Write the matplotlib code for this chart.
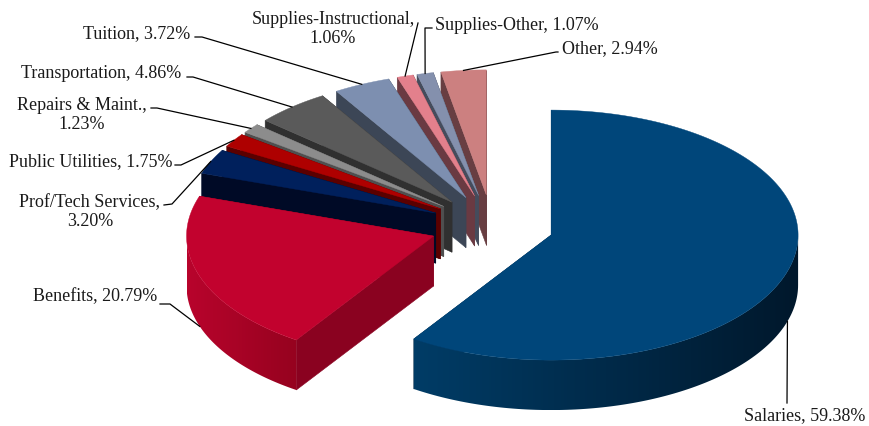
#!/usr/bin/env python3
"""
Exploded 3D pie of expenditure shares, drawn by hand since matplotlib
has no pseudo-3D pie. Axes run in image pixels.
"""

import matplotlib.pyplot as plt
import matplotlib.colors as mcolors
from matplotlib.patches import Polygon
import numpy as np

categories = ['Salaries', 'Benefits', 'Prof/Tech Services', 'Public Utilities',
              'Repairs & Maint.', 'Transportation', 'Tuition',
              'Supplies-Instructional', 'Supplies-Other', 'Other']
shares = [59.38, 20.79, 3.20, 1.75, 1.23, 4.86, 3.72, 1.06, 1.07, 2.94]

# Style settings
top_colors = ['#00467a', '#c2022e', '#00205c', '#ae0000', '#8c8c8c',
              '#5a5a5a', '#7d8fb0', '#e3808c', '#8490ad', '#cc8080']
side_light = ['#003c66', '#b8042c', '#000c2c', '#660000', '#555555',
              '#333333', '#3e4858', '#703e46', '#474e5e', '#6c4246']
side_dark = ['#00182c', '#96021f', '#000820', '#4a0000', '#444444',
             '#2a2a2a', '#343c4a', '#5e343a', '#3c424f', '#5c383c']
cut_colors = ['#002a4a', '#8a0220', '#000a26', '#5a0000', '#4f4f4f',
              '#303030', '#3c4656', '#6a3a42', '#454c5c', '#683e42']

# Label layout (pixels): centre, then leader elbow start and end
label_xy = [(805, 416), (95, 297), (90, 212), (91, 162), (82, 115),
            (101, 73), (137, 34), (333, 29), (517, 26), (610, 49)]
leader_from = [(787, 403), (160, 304), (164, 205), (175, 165), (151, 108),
               (187, 77), (195, 37), (418, 23), (432, 28), (558, 52)]
leader_elbow = [(787, 403), (170, 304), (172, 204), (181, 165), (157, 108),
                (193, 77), (202, 37), (418, 23), (425, 28), (556, 52)]
wrapped = [False, False, True, False, True, False, False, True, False, False]

# Pie geometry (pixels)
CX, CY = 492, 226
RX, RY = 247, 125
EXPLODE = 0.25
DEPTH = 50

fig = plt.figure(figsize=(8.7, 4.26), dpi=100)
ax = fig.add_axes([0, 0, 1, 1])
ax.axis('off')


def rim(theta, ax0, ay0):
    """Point on the ellipse, theta in radians clockwise from the top."""
    return ax0 + RX * np.sin(theta), ay0 - RY * np.cos(theta)


edges = np.radians(np.concatenate([[0], np.cumsum(shares)]) * 3.6)
mids = (edges[:-1] + edges[1:]) / 2
apex_x = CX + EXPLODE * RX * np.sin(mids)
apex_y = CY - EXPLODE * RY * np.cos(mids)

# Painter's order: back slices first, Salaries last
for i in range(len(shares) - 1, -1, -1):
    a0, a1 = edges[i], edges[i + 1]
    px, py = apex_x[i], apex_y[i]
    z = 2 * (10 - i)

    # Cut faces
    for a in (a0, a1):
        ex, ey = rim(a, px, py)
        ax.fill([px, ex, ex, px], [py, ey, ey + DEPTH, py + DEPTH],
                color=cut_colors[i], lw=0.4, zorder=z)

    # Curved outer wall, only the front half of the ellipse shows
    lo, hi = max(a0, np.pi / 2), min(a1, 3 * np.pi / 2)
    if hi > lo:
        steps = np.linspace(lo, hi, 120)
        xs, ys = rim(steps, px, py)
        wall = Polygon(np.c_[np.r_[xs, xs[::-1]], np.r_[ys, ys[::-1] + DEPTH]],
                       transform=ax.transData, fc='none', ec='none')
        ax.add_patch(wall)
        ramp = np.linspace(mcolors.to_rgb(side_light[i]),
                           mcolors.to_rgb(side_dark[i]), 64)[np.newaxis, :, :]
        im = ax.imshow(ramp, extent=(xs.min(), xs.max(), ys.max() + DEPTH, ys.min()),
                       aspect='auto', interpolation='bilinear', zorder=z)
        im.set_clip_path(wall)

    # Top face
    arc = np.linspace(a0, a1, max(int((a1 - a0) * 60), 4))
    xs, ys = rim(arc, px, py)
    ax.fill(np.r_[px, xs], np.r_[py, ys], color=top_colors[i], lw=0.3, zorder=z + 1)

# Labels and leader lines
for i, name in enumerate(categories):
    sep = ',\n' if wrapped[i] else ', '
    ax.text(label_xy[i][0], label_xy[i][1], f'{name}{sep}{shares[i]:.2f}%',
            ha='center', va='center', fontsize=13, linespacing=1.1,
            family=['Liberation Serif'], color='#1a1a1a', zorder=40)
    tx, ty = rim(mids[i], apex_x[i], apex_y[i])
    if np.cos(mids[i]) < 0:
        ty += DEPTH
    ax.plot([leader_from[i][0], leader_elbow[i][0], tx],
            [leader_from[i][1], leader_elbow[i][1], ty],
            color='black', lw=0.9, zorder=39)

ax.set_xlim(0, 870)
ax.set_ylim(426, 0)

fig.savefig('out.png', dpi=100)
plt.close(fig)
